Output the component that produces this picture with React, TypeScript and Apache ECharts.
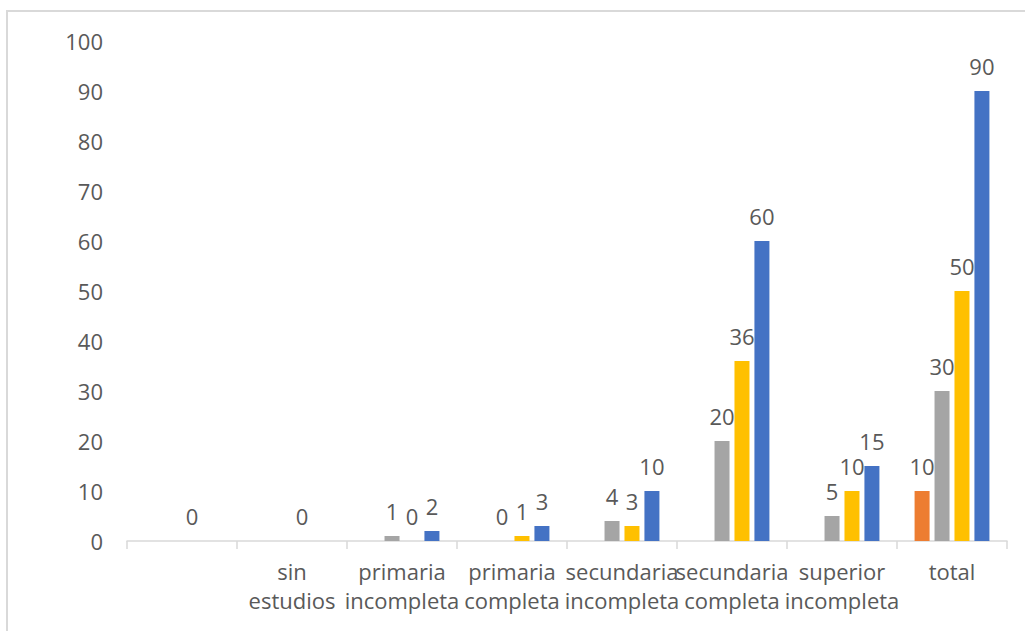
import React, { useEffect, useRef } from "react";
import * as echarts from "echarts";

const categories = [
  "",
  "sin estudios",
  "primaria incompleta",
  "primaria completa",
  "secundaria incompleta",
  "secundaria completa",
  "superior incompleta",
  "total",
];
const yTicks = [0, 10, 20, 30, 40, 50, 60, 70, 80, 90, 100];
const orangeValues = [null, null, null, null, null, null, null, 10];
const grayValues = [null, null, 1, 0, 4, 20, 5, 30];
const yellowValues = [0, 0, 0, 1, 3, 36, 10, 50];
const blueValues = [null, null, 2, 3, 10, 60, 15, 90];

const FONT = "Open Sans";
const TEXT = "#595959";
const LINE = "#d9d9d9";

export default function App() {
  const ref = useRef<HTMLDivElement>(null);
  useEffect(() => {
    if (!ref.current) return;
    const chart = echarts.init(ref.current, null, { renderer: "svg" });
    const mk = (name: string, data: (number | null)[], color: string) => ({
      name,
      type: "bar",
      data,
      barWidth: 15,
      barGap: "33%",
      itemStyle: { color },
      label: {
        show: true,
        position: "top",
        distance: 14,
        color: TEXT,
        fontFamily: FONT,
        fontSize: 22,
      },
    });
    chart.setOption({
      animation: false,
      backgroundColor: "#ffffff",
      graphic: [
        {
          type: "rect",
          shape: { x: 7, y: 11, width: 1100, height: 800 },
          style: { fill: "none", stroke: LINE, lineWidth: 2 },
          silent: true,
        },
      ],
      grid: { left: 127, right: 18, top: 41, bottom: 90 },
      xAxis: {
        type: "category",
        data: categories,
        boundaryGap: true,
        axisLine: { show: true, lineStyle: { color: LINE, width: 1.5 } },
        axisTick: { show: true, length: 8, alignWithLabel: false, lineStyle: { color: LINE, width: 1.5 } },
        axisLabel: {
          interval: 0,
          margin: 15,
          color: TEXT,
          fontFamily: FONT,
          fontSize: 22,
          lineHeight: 29,
          formatter: (v: string) => v.split(" ").join("\n"),
        },
        splitLine: { show: false },
      },
      yAxis: {
        type: "value",
        min: yTicks[0],
        max: yTicks[yTicks.length - 1],
        interval: 10,
        axisLine: { show: false },
        axisTick: { show: false },
        splitLine: { show: false },
        axisLabel: { color: TEXT, fontFamily: FONT, fontSize: 22, margin: 24 },
      },
      series: [
        mk("orange", orangeValues, "#ED7D31"),
        mk("gray", grayValues, "#A5A5A5"),
        mk("yellow", yellowValues, "#FFC000"),
        mk("blue", blueValues, "#4472C4"),
      ],
    });
    return () => chart.dispose();
  }, []);
  return (
    <div
      ref={ref}
      style={{ position: "fixed", left: 0, top: 0, width: 1025, height: 631, background: "#fff" }}
    />
  );
}
